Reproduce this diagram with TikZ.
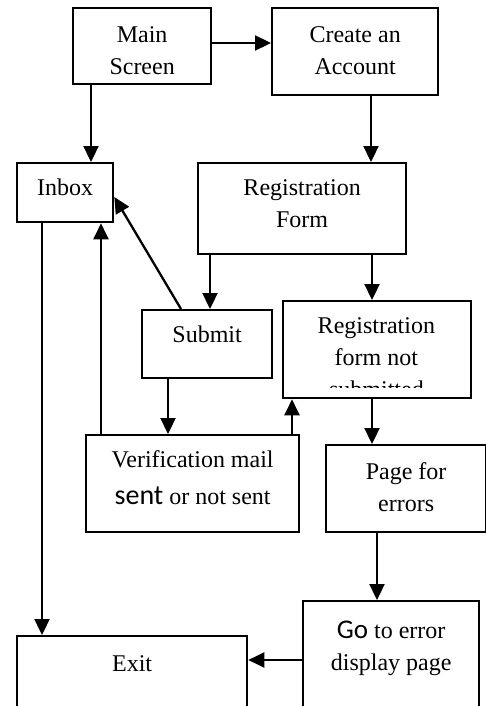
\documentclass[tikz,border=0pt]{standalone}
\usepackage{fontspec}
\setmainfont{Liberation Serif}
\newfontfamily\calib{Carlito}
\usetikzlibrary{arrows.meta}
\tikzset{
 bx/.style={draw, line width=1.15pt, inner sep=0pt, anchor=north west, font=\fontsize{12}{16}\selectfont},
 txt/.style={inner sep=0pt, anchor=north west, font=\fontsize{12}{16}\selectfont},
 arr/.style={line width=1.15pt, -{Triangle[length=8pt,width=7.5pt]}},
}
\newcommand\boxtxt[4]{\parbox[c][#2][t]{#1}{\centering\rule{0pt}{#3}#4}}
\begin{document}
\begin{tikzpicture}[x=0.5pt,y=-0.5pt]
\clip (0,0) rectangle (486,706);
\fill[white] (0,0) rectangle (486,706);
\node[bx] (main) at (72,7) {\boxtxt{69pt}{38pt}{17pt}{Main\\Screen}};
\node[bx] (create) at (271,7) {\boxtxt{83pt}{43.5pt}{17pt}{Create an\\Account}};
\node[bx] (inbox) at (16,162) {\boxtxt{48pt}{29.5pt}{16pt}{Inbox}};
\node[bx] (regform) at (197,162) {\boxtxt{104pt}{45.5pt}{16pt}{Registration\\Form}};
\node[bx] (submit) at (141,309) {\boxtxt{65pt}{34pt}{16pt}{Submit}};
\node[bx, minimum width=94pt, minimum height=48.5pt] (rns) at (282,300) {};
\begin{scope}
\clip (282,300) rectangle (470,387);
\node[txt] (rnstext) at (282,300) {\boxtxt{94pt}{48.5pt}{16.5pt}{Registration\\form not\\submitted}};
\end{scope}
\node[bx] (verif) at (85,434) {\boxtxt{106.5pt}{48.5pt}{16pt}{Verification mail\\[2.5pt]{\calib\fontsize{14}{16}\selectfont sent} or not sent}};
\node[bx] (page) at (325,444) {\boxtxt{80pt}{43.5pt}{17pt}{Page for\\errors}};
\node[bx] (goto) at (302,600) {\boxtxt{88pt}{70pt}{18.5pt}{{\calib\fontsize{13.5}{16}\selectfont Go} to error\\display page}};
\node[bx] (exit) at (16,635) {\boxtxt{115pt}{52.5pt}{17.5pt}{Exit}};
\draw[arr] (main.east |- 0,43) -- (create.west |- 0,43);
\draw[arr] (main.south -| 91,0) -- (inbox.north -| 91,0);
\draw[arr] (create.south -| 371,0) -- (regform.north -| 371,0);
\draw[arr] (regform.south -| 210,0) -- (submit.north -| 210,0);
\draw[arr] (regform.south -| 372,0) -- (rns.north -| 372,0);
\draw[arr] (submit.north -| 181,0) -- (inbox.east |- 0,197);
\draw[arr] (verif.north -| 101,0) -- (inbox.south -| 101,0);
\draw[arr] (inbox.south -| 42,0) -- (exit.north -| 42,0);
\draw[arr] (submit.south -| 168,0) -- (verif.north -| 168,0);
\draw[arr] (verif.north -| 292,0) -- (rns.south -| 292,0);
\draw[arr] (rns.south -| 372,0) -- (page.north -| 372,0);
\draw[arr] (page.south -| 377,0) -- (goto.north -| 377,0);
\draw[arr] (goto.west |- 0,660) -- (exit.east |- 0,660);
\end{tikzpicture}
\end{document}
